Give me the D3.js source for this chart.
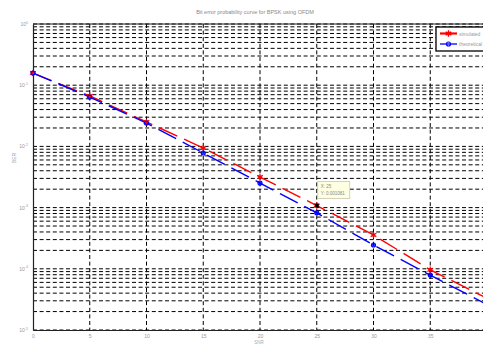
<!DOCTYPE html>
<html><head><meta charset="utf-8">
<script src="https://cdn.jsdelivr.net/npm/d3@7"></script>
<style>html,body{margin:0;padding:0;background:#fff;}svg{display:block;font-family:"Liberation Sans",Arial,sans-serif;}</style>
</head><body>
<svg id="c" width="483" height="345"></svg>
<script>
const snr = [0, 5, 10, 15, 20, 25, 30, 35, 40];
const simulated = [0.158, 0.0667, 0.0251, 0.0094, 0.00316, 0.001081, 0.000357, 0.000096, 0.000033];
const theoretical = [0.158, 0.064, 0.0241, 0.0078, 0.00252, 0.00082, 0.000245, 0.000079, 0.000026];
const xTicks = [0, 5, 10, 15, 20, 25, 30, 35];
const yDecades = [0, -1, -2, -3, -4, -5];
const seriesNames = ["simulated", "theoretical"];
const titleText = "Bit error probability curve for BPSK using OFDM";
const tip = {x: 25, y: 0.001081};

const svg = d3.select("#c");
const x = d3.scaleLinear().domain([0, 40]).range([33, 487]);
const y = d3.scaleLog().domain([1e-5, 1]).range([330, 24]);

// grid
const minor = [];
for (let e = -5; e < 0; e++) for (let m = 1; m < 10; m++) minor.push(m * Math.pow(10, e));
minor.push(1);
const grid = svg.append("g").attr("stroke", "#000").attr("stroke-width", 1).attr("stroke-dasharray", "4,2.6");
grid.selectAll("line.h").data(minor).join("line").attr("class", "h")
  .attr("x1", x(0)).attr("x2", x(40)).attr("y1", d => y(d)).attr("y2", d => y(d));
grid.selectAll("line.v").data(xTicks.slice(1)).join("line").attr("class", "v")
  .attr("x1", d => x(d)).attr("x2", d => x(d)).attr("y1", y(1)).attr("y2", y(1e-5));

// axes
const xAxis = d3.axisBottom(x).tickValues(xTicks).tickSize(0).tickPadding(4);
const gx = svg.append("g").attr("transform", `translate(0,${y(1e-5)})`).call(xAxis);
gx.select(".domain").attr("stroke", "#222").attr("stroke-width", 1.2);
gx.selectAll("text").attr("font-size", 5).attr("fill", "#999").attr("font-family", "Liberation Sans, Arial, sans-serif");
const yAxis = d3.axisLeft(y).tickValues(yDecades.map(e => Math.pow(10, e))).tickSize(0).tickFormat("");
const gy = svg.append("g").attr("transform", `translate(${x(0)},0)`).call(yAxis);
gy.select(".domain").attr("stroke", "#222").attr("stroke-width", 1.2);
svg.append("line").attr("x1", x(0)).attr("x2", x(40)).attr("y1", y(1)).attr("y2", y(1)).attr("stroke", "#222").attr("stroke-width", 1.2);

// y tick labels 10^e
const yl = svg.append("g").attr("font-size", 5).attr("fill", "#999");
yDecades.forEach(e => {
  const t = yl.append("text").attr("x", 28).attr("y", y(Math.pow(10, e)) + 2).attr("text-anchor", "end");
  t.append("tspan").text("10");
  t.append("tspan").attr("dy", -2.5).attr("font-size", 3.5).text(String(e));
});

// title & labels
svg.append("text").attr("x", 255).attr("y", 14).attr("text-anchor", "middle").attr("font-size", 5.5).attr("fill", "#888").text(titleText);
svg.append("text").attr("x", 259).attr("y", 344).attr("text-anchor", "middle").attr("font-size", 4.5).attr("fill", "#aaa").text("SNR");
svg.append("text").attr("transform", "translate(16,158) rotate(-90)").attr("text-anchor", "middle").attr("font-size", 5).attr("fill", "#999").text("BER");

// curves
const line = d3.line().x((d, i) => x(snr[i])).y(d => y(d));
const colors = ["#ff0000", "#0000ff"];
[simulated, theoretical].forEach((s, k) => {
  svg.append("path").attr("d", line(s)).attr("fill", "none").attr("stroke", colors[k]).attr("stroke-width", 1.4).attr("stroke-dasharray", "20,7.5");
  svg.append("g").selectAll("rect").data(s).join("rect")
    .attr("x", (d, i) => x(snr[i]) - 1.5).attr("y", d => y(d) - 1.5).attr("width", 3).attr("height", 3)
    .attr("fill", colors[k]).attr("opacity", 0.8);
});
const star = d3.symbol().type(d3.symbolAsterisk).size(30);
svg.append("g").selectAll("path").data(simulated).join("path")
  .attr("transform", (d, i) => `translate(${x(snr[i])},${y(d)})`).attr("d", star).attr("stroke", "#ff0000").attr("stroke-width", 1.2).attr("fill", "none");
svg.append("g").selectAll("circle").data(theoretical).join("circle")
  .attr("cx", (d, i) => x(snr[i])).attr("cy", d => y(d)).attr("r", 2).attr("stroke", "#0000ff").attr("stroke-width", 1.2).attr("fill", "none");

// data tip
svg.append("rect").attr("x", x(tip.x) - 2).attr("y", y(tip.y) - 2).attr("width", 4).attr("height", 4).attr("fill", "#000");
const tg = svg.append("g");
tg.append("rect").attr("x", x(tip.x) + 1).attr("y", y(tip.y) - 24).attr("width", 32).attr("height", 17).attr("fill", "#ffffe1").attr("stroke", "#c8c8b0").attr("stroke-width", 0.8);
tg.append("text").attr("x", x(tip.x) + 4).attr("y", y(tip.y) - 17.5).attr("font-size", 4.5).attr("fill", "#888").text("X: " + tip.x);
tg.append("text").attr("x", x(tip.x) + 4).attr("y", y(tip.y) - 11).attr("font-size", 4.5).attr("fill", "#888").text("Y: " + tip.y);

// legend
const lg = svg.append("g");
lg.append("rect").attr("x", 436).attr("y", 27).attr("width", 70).attr("height", 24).attr("fill", "#fff").attr("stroke", "#000").attr("stroke-width", 1.3);
seriesNames.forEach((n, k) => {
  const yy = 33.5 + k * 10.5;
  lg.append("line").attr("x1", 440).attr("x2", 457).attr("y1", yy).attr("y2", yy).attr("stroke", colors[k]).attr("stroke-width", k === 0 ? 2.2 : 1.3);
  if (k === 0) lg.append("path").attr("transform", `translate(448.5,${yy})`).attr("d", star).attr("stroke", colors[0]).attr("stroke-width", 1.5).attr("fill", "none");
  else lg.append("circle").attr("cx", 448.5).attr("cy", yy).attr("r", 2).attr("stroke", colors[1]).attr("stroke-width", 1.2).attr("fill", "none");
  lg.append("text").attr("x", 459).attr("y", yy + 2).attr("font-size", 5).attr("fill", "#999").text(n);
});
</script>
</body></html>
